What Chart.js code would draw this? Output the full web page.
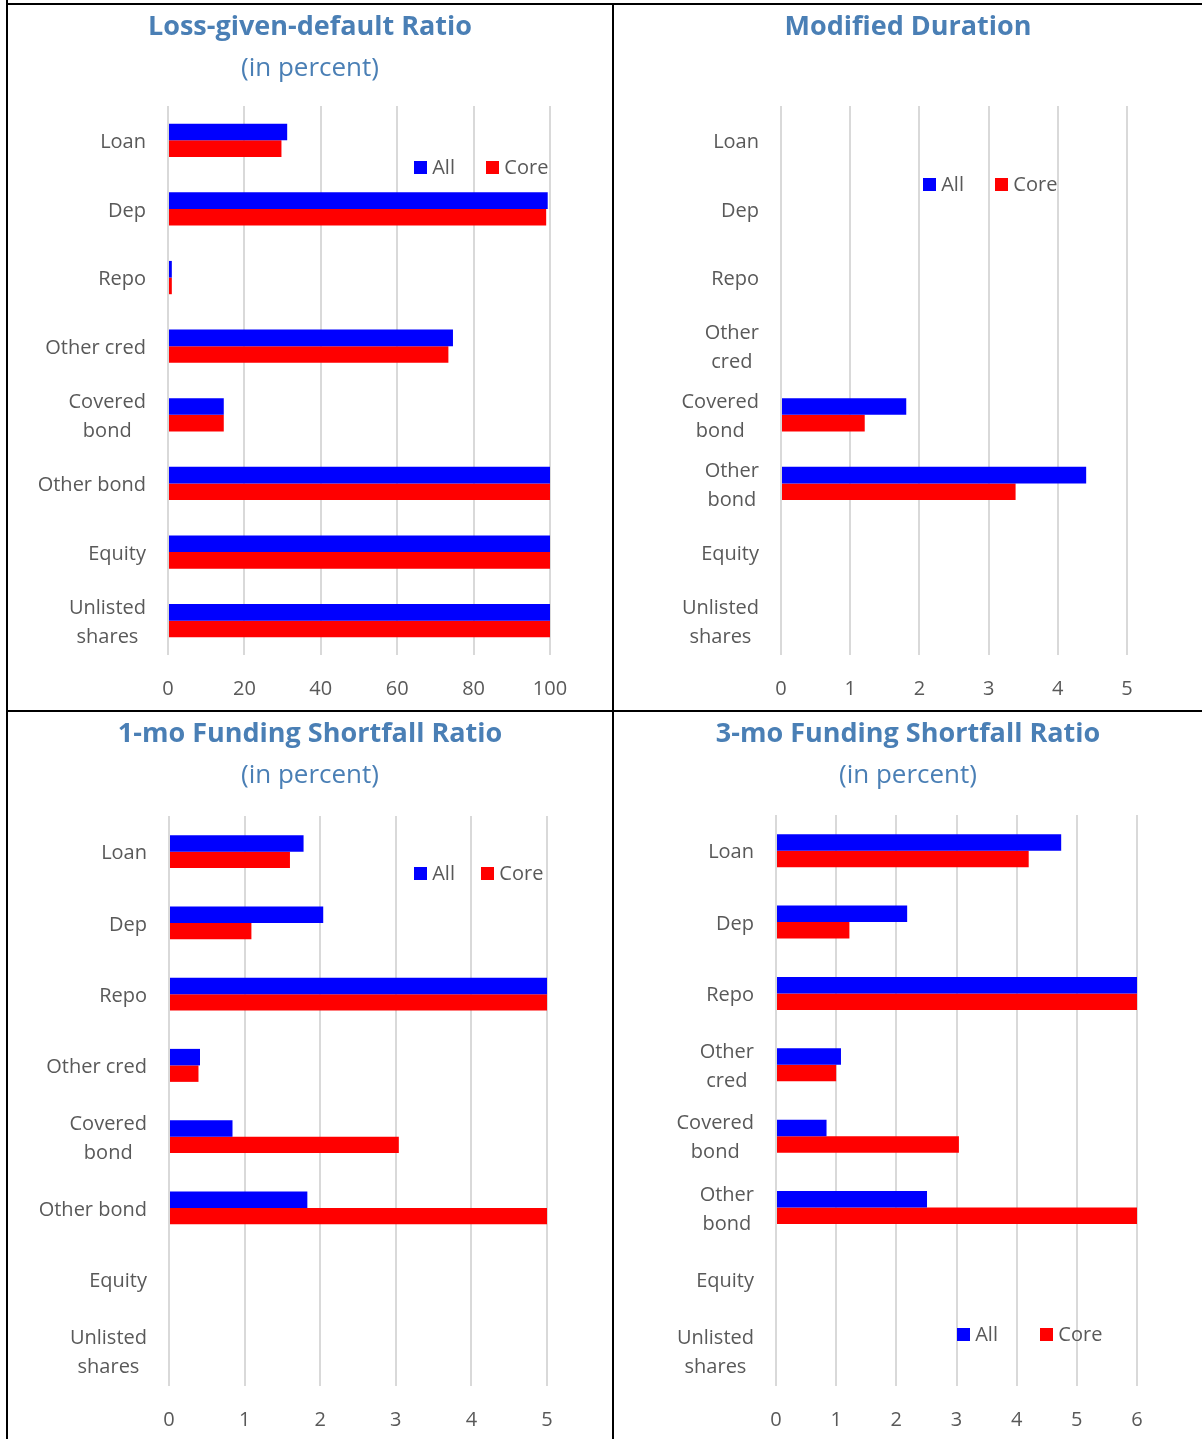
<!DOCTYPE html>
<html>
<head>
<meta charset="utf-8">
<script src="https://cdn.jsdelivr.net/npm/chart.js@4.4.1/dist/chart.umd.min.js"></script>
<style>
  body { margin: 0; background: #fff; font-family: 'Open Sans', sans-serif; }
  #page { position: relative; width: 1202px; height: 1439px; overflow: hidden; }
  .line { position: absolute; background: #000; }
  .panel { position: absolute; }
  .panel canvas { position: absolute; left: 0; top: 0; }
  .ttl { position: absolute; left: 0; right: 0; text-align: center; color: #4a7fb5;
         font-weight: bold; font-size: 27px; line-height: 30px; top: 5px; }
  .sub { position: absolute; left: 0; right: 0; text-align: center; color: #4a7fb5;
         font-size: 26px; line-height: 30px; top: 46px; }
  .leg { position: absolute; font-size: 20px; color: #595959; line-height: 24px; white-space: nowrap; }
  .leg span.sq { display: inline-block; width: 13px; height: 13px; vertical-align: middle; margin-top: -3px; }
</style>
</head>
<body>
<div id="page">
  <div class="panel" id="p1" style="left:8px;top:5px;width:604px;height:705px">
    <canvas id="c1"></canvas>
    <div class="ttl">Loss-given-default Ratio</div>
    <div class="sub">(in percent)</div>
  </div>
  <div class="panel" id="p2" style="left:614px;top:5px;width:588px;height:705px">
    <canvas id="c2"></canvas>
    <div class="ttl">Modified Duration</div>
  </div>
  <div class="panel" id="p3" style="left:8px;top:712px;width:604px;height:727px">
    <canvas id="c3"></canvas>
    <div class="ttl">1-mo Funding Shortfall Ratio</div>
    <div class="sub">(in percent)</div>
  </div>
  <div class="panel" id="p4" style="left:614px;top:712px;width:588px;height:727px">
    <canvas id="c4"></canvas>
    <div class="ttl">3-mo Funding Shortfall Ratio</div>
    <div class="sub">(in percent)</div>
  </div>

  <div class="leg" style="left:414px;top:155px"><span class="sq" style="background:#0000ff"></span> All <span class="sq" style="background:#ff0000;margin-left:26px"></span> Core</div>
  <div class="leg" style="left:923px;top:172px"><span class="sq" style="background:#0000ff"></span> All <span class="sq" style="background:#ff0000;margin-left:26px"></span> Core</div>
  <div class="leg" style="left:414px;top:861px"><span class="sq" style="background:#0000ff"></span> All <span class="sq" style="background:#ff0000;margin-left:21px"></span> Core</div>
  <div class="leg" style="left:957px;top:1322px"><span class="sq" style="background:#0000ff"></span> All <span class="sq" style="background:#ff0000;margin-left:37px"></span> Core</div>

  <!-- frame lines -->
  <div class="line" style="left:6px;top:0;width:2px;height:1439px"></div>
  <div class="line" style="left:6px;top:3px;width:1196px;height:2px"></div>
  <div class="line" style="left:612px;top:3px;width:2px;height:1436px"></div>
  <div class="line" style="left:6px;top:710px;width:1196px;height:2px"></div>
</div>

<script>
// ===== DADOS =====
const CAT_LARGO = ['Loan', 'Dep', 'Repo', 'Other cred', ['Covered', 'bond'], 'Other bond', 'Equity', ['Unlisted', 'shares']];
const CAT_ESTREITO = ['Loan', 'Dep', 'Repo', ['Other', 'cred'], ['Covered', 'bond'], ['Other', 'bond'], 'Equity', ['Unlisted', 'shares']];

const lgdAll  = [31.2, 99.4, 1.0, 74.6, 14.6, 100, 100, 100];
const lgdCore = [29.7, 99.0, 1.0, 73.4, 14.6, 100, 100, 100];

const durAll  = [null, null, null, null, 1.81, 4.41, null, null];
const durCore = [null, null, null, null, 1.21, 3.39, null, null];

const fs1All  = [1.78, 2.04, 5, 0.41, 0.84, 1.83, null, null];
const fs1Core = [1.60, 1.09, 5, 0.39, 3.04, 5, null, null];

const fs3All  = [4.74, 2.18, 6, 1.08, 0.84, 2.51, null, null];
const fs3Core = [4.20, 1.22, 6, 1.00, 3.04, 6, null, null];

const FONTE = "'Segoe UI', 'Open Sans', sans-serif";
const CINZA = '#595959';

// ===== ROTULOS DO EIXO Y (linhas centradas, bloco alinhado a direita) =====
const rotulosY = {
  id: 'rotulosY',
  afterDraw(chart) {
    const sc = chart.scales.y;
    const ctx = chart.ctx;
    const dirX = chart.chartArea.left - 22;
    ctx.save();
    ctx.font = '20px ' + FONTE;
    ctx.fillStyle = CINZA;
    ctx.textAlign = 'center';
    ctx.textBaseline = 'middle';
    chart.data.labels.forEach((lab, i) => {
      const linhas = Array.isArray(lab) ? lab : [lab];
      const larg = Math.max(...linhas.map(l => ctx.measureText(l).width));
      const cx = dirX - larg / 2;
      const y0 = sc.getPixelForTick(i) + 2 - (linhas.length - 1) * 29 / 2;
      linhas.forEach((l, k) => ctx.fillText(l, cx, y0 + k * 29));
    });
    ctx.restore();
  }
};

function criarGrafico(id, labels, all, core, max, passo, box) {
  const el = document.getElementById(id);
  const pai = el.parentNode;
  el.width = pai.offsetWidth;
  el.height = pai.offsetHeight;
  return new Chart(el, {
    type: 'bar',
    data: {
      labels,
      datasets: [
        { label: 'All', data: all, backgroundColor: '#0000ff', categoryPercentage: box.cat, barPercentage: 1 },
        { label: 'Core', data: core, backgroundColor: '#ff0000', categoryPercentage: box.cat, barPercentage: 1 }
      ]
    },
    options: {
      indexAxis: 'y',
      responsive: false,
      animation: false,
      layout: { padding: { top: box.top, right: box.right, left: 0, bottom: 0 } },
      plugins: { legend: { display: false }, tooltip: { enabled: false } },
      scales: {
        x: {
          min: 0, max,
          ticks: { stepSize: passo, color: CINZA, font: { family: FONTE, size: 20 }, padding: 22 },
          grid: { color: '#d9d9d9', lineWidth: 2, drawTicks: false },
          border: { display: false },
          afterFit: s => { s.height = box.bottom; }
        },
        y: {
          ticks: { display: false },
          grid: { display: false },
          border: { display: false },
          afterFit: s => { s.width = box.left; }
        }
      }
    },
    plugins: [rotulosY]
  });
}

criarGrafico('c1', CAT_LARGO, lgdAll, lgdCore, 100, 20, { top: 101, bottom: 55, left: 160, right: 62, cat: 0.485 });
criarGrafico('c2', CAT_ESTREITO, durAll, durCore, 5, 1, { top: 101, bottom: 55, left: 167, right: 75, cat: 0.485 });
criarGrafico('c3', CAT_LARGO, fs1All, fs1Core, 5, 1, { top: 104, bottom: 53, left: 161, right: 65, cat: 0.463 });
criarGrafico('c4', CAT_ESTREITO, fs3All, fs3Core, 6, 1, { top: 103, bottom: 53, left: 162, right: 65, cat: 0.463 });
</script>
</body>
</html>
